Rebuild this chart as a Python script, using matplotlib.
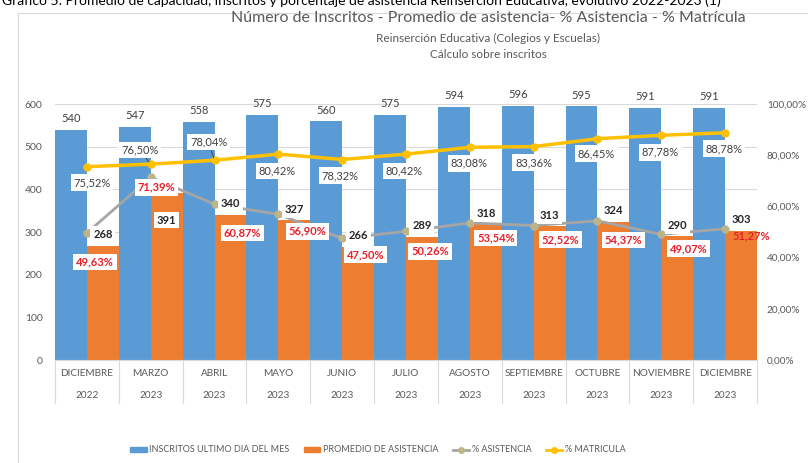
import numpy as np
import matplotlib.pyplot as plt
from matplotlib.lines import Line2D
from matplotlib.patches import Patch

plt.rcParams['font.family'] = ['Lato', 'DejaVu Sans']

# Data
meses = ['DICIEMBRE', 'MARZO', 'ABRIL', 'MAYO', 'JUNIO', 'JULIO', 'AGOSTO',
         'SEPTIEMBRE', 'OCTUBRE', 'NOVIEMBRE', 'DICIEMBRE']
anios = ['2022'] + ['2023'] * 10
inscritos = [540, 547, 558, 575, 560, 575, 594, 596, 595, 591, 591]
promedio = [268, 391, 340, 327, 266, 289, 318, 313, 324, 290, 303]
pct_asistencia = [49.63, 71.39, 60.87, 56.90, 47.50, 50.26, 53.54, 52.52, 54.37, 49.07, 51.27]
pct_matricula = [75.52, 76.50, 78.04, 80.42, 78.32, 80.42, 83.08, 83.36, 86.45, 87.78, 88.78]

# label offsets in pixels (dx, dy)
off_mat = [(5, -16), (-11, 14), (-6, 18), (-1, -17), (-2, -16), (-2, -17),
           (-1, -16), (0, -16), (-1, -15), (-1, -17), (-1, -16)]
off_asi = [(8, -29), (6, -10), (28, -29), (29, -17), (23, -16), (24, -20),
           (26, -15), (27, -14), (26, -19), (27, -14), (26, -7)]

BLUE = '#5B9BD5'
ORANGE = '#ED7D31'
GRAY = '#A5A5A5'
YELLOW = '#FFC000'
TXT = '#595959'

fig = plt.figure(figsize=(8.08, 4.63), dpi=100)
ax = fig.add_axes([55 / 808, 1 - 360 / 463, 702 / 808, 256 / 463])
ax2 = ax.twinx()

x = np.arange(len(meses))
ax.bar(x - 0.25, inscritos, width=0.5, color=BLUE, zorder=2)
ax.bar(x + 0.25, promedio, width=0.5, color=ORANGE, zorder=2)

ax.set_xlim(-0.5, len(meses) - 0.5)
ax.set_ylim(0, 600)
ax.set_yticks(range(0, 601, 100))
ax.yaxis.grid(True, color='#D9D9D9', lw=0.8)
ax.set_axisbelow(True)
ax.set_xticks([])
for s in ['top', 'right', 'left']:
    ax.spines[s].set_visible(False)
    ax2.spines[s].set_visible(False)
ax.spines['bottom'].set_color('#D9D9D9')
ax2.spines['bottom'].set_visible(False)
ax.tick_params(axis='y', length=0, labelsize=7.5, labelcolor=TXT, pad=9)

ax2.set_ylim(0, 100)
ax2.set_yticks(range(0, 101, 20))
ax2.set_yticklabels([f'{v},00%' for v in range(0, 101, 20)])
ax2.tick_params(axis='y', length=0, labelsize=7.2, labelcolor=TXT, pad=7)

ax2.plot(x, pct_asistencia, color=GRAY, lw=2, marker='o', ms=5,
         mfc='#BDB589', mec='#BDB589', zorder=3)
ax2.plot(x, pct_matricula, color=YELLOW, lw=2.5, marker='o', ms=5, zorder=3)

# category labels and separators
trans = ax.get_xaxis_transform()
for i in range(len(meses)):
    ax.text(i, -14 / 256, meses[i], transform=trans, ha='center', va='center',
            fontsize=7.2, color=TXT)
    ax.text(i, -36 / 256, anios[i], transform=trans, ha='center', va='center',
            fontsize=7.2, color=TXT)
for i in range(len(meses) + 1):
    ax.plot([i - 0.5, i - 0.5], [0, -43 / 256], transform=trans, color='#D9D9D9',
            lw=0.8, clip_on=False)

box = dict(boxstyle='square,pad=0.25', fc='white', ec='none')

# blue bar labels
for i, v in enumerate(inscritos):
    ax2.annotate(str(v), (i - 0.25, v), xycoords=ax.transData, xytext=(0, 11),
                 textcoords='offset pixels', ha='center', va='center',
                 fontsize=8, color='#404040', zorder=6)

# orange bar labels
for i, v in enumerate(promedio):
    dy = -27 if i == 1 else 11
    ax2.annotate(str(v), (i + 0.25, v), xycoords=ax.transData, xytext=(0, dy),
                 textcoords='offset pixels', ha='center', va='center', fontsize=8,
                 color='#262626', fontweight='bold', bbox=box, zorder=6)

# % matricula labels
for i, v in enumerate(pct_matricula):
    dx, dy = off_mat[i]
    lbl = f'{v:.2f}%'.replace('.', ',')
    arrow = None
    if i in (1, 2):
        arrow = dict(arrowstyle='-', color='#404040', lw=0.7, shrinkA=0, shrinkB=2)
    ax2.annotate(lbl, (i, v), xytext=(dx, dy), textcoords='offset pixels',
                 ha='center', va='center', fontsize=8, color='#404040',
                 bbox=box, arrowprops=arrow, zorder=7)

# % asistencia labels
for i, v in enumerate(pct_asistencia):
    dx, dy = off_asi[i]
    lbl = f'{v:.2f}%'.replace('.', ',')
    b = None if i == len(meses) - 1 else box
    ax2.annotate(lbl, (i, v), xytext=(dx, dy), textcoords='offset pixels',
                 ha='center', va='center', fontsize=8, color='#E8202A',
                 fontweight='bold', bbox=b, zorder=7)

# titles
fig.text(488 / 808, 1 - 18 / 463,
         'Número de Inscritos - Promedio de asistencia- % Asistencia - % Matrícula',
         ha='center', va='center', fontsize=11.5, color=TXT)
fig.text(488 / 808, 1 - 38 / 463, 'Reinserción Educativa (Colegios y Escuelas)',
         ha='center', va='center', fontsize=8.5, color=TXT)
fig.text(488 / 808, 1 - 55 / 463, 'Cálculo sobre inscritos',
         ha='center', va='center', fontsize=8.5, color=TXT)
fig.text(2 / 808, 1 - 1 / 463,
         'Gráfico 5: Promedio de capacidad, inscritos y porcentaje de asistencia '
         'Reinserción Educativa, evolutivo 2022-2023 (1)',
         ha='left', va='center', fontsize=10, color='black')

# frame
fig.add_artist(Line2D([18 / 808, 18 / 808], [0, 1 - 13 / 463], color='#D9D9D9', lw=0.8))
fig.add_artist(Line2D([18 / 808, 1], [1 - 13 / 463, 1 - 13 / 463], color='#D9D9D9', lw=0.8))

# legend
handles = [Patch(color=BLUE), Patch(color=ORANGE),
           Line2D([], [], color=GRAY, lw=2, marker='o', ms=4, mfc='#BDB589', mec='#BDB589'),
           Line2D([], [], color=YELLOW, lw=2, marker='o', ms=4)]
labels = ['INSCRITOS ULTIMO DIA DEL MES', 'PROMEDIO DE ASISTENCIA', '% ASISTENCIA', '% MATRICULA']
leg = fig.legend(handles, labels, loc='center', ncol=4,
                 bbox_to_anchor=(378 / 808, 1 - 450 / 463), frameon=False,
                 fontsize=6.5, handlelength=1.8, handleheight=0.5, columnspacing=1.6,
                 handletextpad=0.3)
for t in leg.get_texts():
    t.set_color(TXT)

fig.savefig('out.png', dpi=100)
